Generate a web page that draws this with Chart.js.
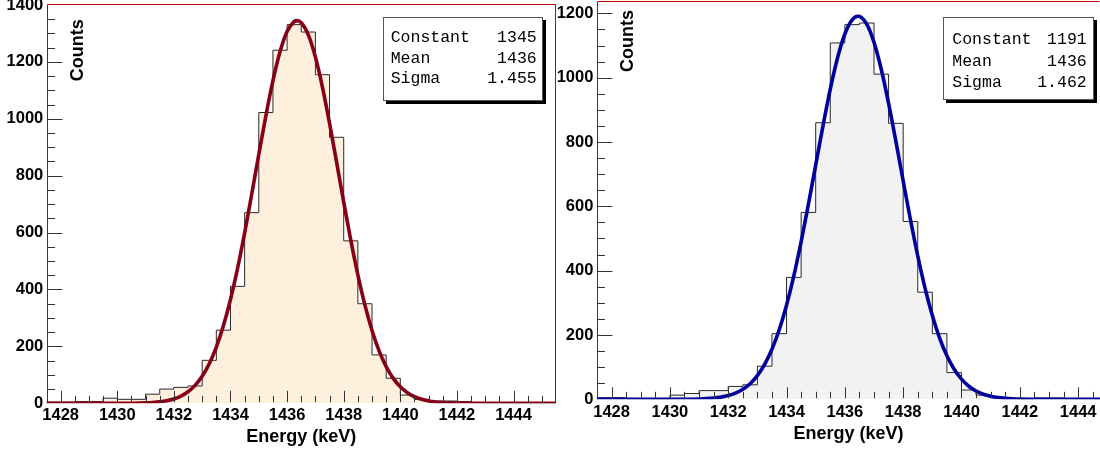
<!DOCTYPE html>
<html><head><meta charset="utf-8">
<script src="https://cdn.jsdelivr.net/npm/chart.js@4.4.1/dist/chart.umd.min.js"></script>
<style>
html,body{margin:0;padding:0;background:#fff;overflow:hidden;width:1100px;height:452px;}
#wrap{position:relative;width:1100px;height:452px;overflow:hidden;background:#fff;}
canvas{position:absolute;display:block;}
</style></head><body>
<div id="wrap">
<canvas id="c1" width="560" height="462" style="left:0px;top:-10px;width:560px;height:462px"></canvas>
<canvas id="c2" width="544" height="464" style="left:556px;top:-15px;width:544px;height:464px"></canvas>
</div>
<script>
// ---- data ----
const binLow = [1427.5,1428,1428.5,1429,1429.5,1430,1430.5,1431,1431.5,1432,1432.5,1433,1433.5,1434,1434.5,1435,1435.5,1436,1436.5,1437,1437.5,1438,1438.5,1439,1439.5,1440,1440.5,1441,1441.5,1442,1442.5,1443,1443.5,1444,1444.5,1445];
const binTop = 1445.5;
const leftCounts  = [4,4,6,6,18,14,14,32,50,56,61,151,257,411,670,1022,1241,1331,1305,1155,935,571,350,170,88,29,14,8,8,6,2,1,0,0,0,0];
const rightCounts = [5,5,2,1,1,13,18,27,27,40,45,103,204,379,581,860,1108,1165,1170,1011,858,553,333,204,83,29,13,6,2,1,4,4,2,2,1,0];

const leftFitX = [1427.5,1429,1430,1430.5,1431,1431.25,1431.5,1431.75,1432,1432.25,1432.5,1432.75,1433,1433.25,1433.5,1433.75,1434,1434.25,1434.5,1434.75,1435,1435.25,1435.5,1435.75,1436,1436.25,1436.35,1436.5,1436.75,1437,1437.25,1437.5,1437.75,1438,1438.25,1438.5,1438.75,1439,1439.25,1439.5,1439.75,1440,1440.25,1440.5,1440.75,1441,1441.25,1441.5,1441.75,1442,1442.5,1443,1445.5];
const leftFitY = [0,0,0.1,0.4,1.6,2.9,5.2,9.1,15.4,25.4,40.6,63.0,94.9,138.9,197.6,272.4,365.0,474.6,599.3,734.8,874.5,1010.6,1134.0,1235.4,1306.7,1341.8,1345,1337.9,1295.1,1217.2,1110.8,984.1,846.7,707.1,573.4,451.4,345.1,256.1,184.5,129.1,87.7,57.8,37.0,23.0,13.9,8.2,4.6,2.6,1.4,0.7,0.2,0,0];
const rightFitX = [1427.5,1429,1430,1430.5,1431,1431.25,1431.5,1431.75,1432,1432.25,1432.5,1432.75,1433,1433.25,1433.5,1433.75,1434,1434.25,1434.5,1434.75,1435,1435.25,1435.5,1435.75,1436,1436.25,1436.45,1436.5,1436.75,1437,1437.25,1437.5,1437.75,1438,1438.25,1438.5,1438.75,1439,1439.25,1439.5,1439.75,1440,1440.25,1440.5,1440.75,1441,1441.25,1441.5,1441.75,1442,1442.5,1443,1445.5];
const rightFitY = [0,0,0.1,0.3,1.1,2.1,3.9,6.8,11.6,19.2,31.0,48.4,73.6,108.5,155.5,216.4,292.5,383.9,489.4,605.9,728.3,850.4,964.3,1062.0,1135.9,1179.9,1191,1190.3,1166.2,1109.7,1025.5,920.3,802.1,679.0,558.2,445.7,345.5,260.2,190.3,135.2,93.3,62.5,40.6,25.7,15.8,9.4,5.4,3.1,1.7,0.9,0.2,0,0];

const xTickLabels = [1428,1430,1432,1434,1436,1438,1440,1442,1444];
const leftYTicks  = [0,200,400,600,800,1000,1200,1400];
const rightYTicks = [0,200,400,600,800,1000,1200];

const fitParamNames = ['Constant','Mean','Sigma'];
const leftFitParams  = ['1345','1436','1.455'];
const rightFitParams = ['1191','1436','1.462'];

const xTitle = 'Energy (keV)';
const yTitle = 'Counts';

// ---- rendering ----
Chart.defaults.font.family = '"Liberation Sans", Arial, Helvetica, sans-serif';
Chart.defaults.color = '#000';

const rootStyle = {
  id: 'rootStyle',
  beforeDatasetsDraw(chart, args, o) {
    const {ctx, chartArea: a} = chart;
    ctx.save();
    ctx.strokeStyle = o.frameColor; ctx.lineWidth = 1;
    const L = Math.round(a.left) + 0.5, T = Math.round(a.top) + 0.5;
    const R = Math.round(a.right) - 0.5, B = Math.round(a.bottom) - 0.5;
    ctx.beginPath();
    ctx.moveTo(L, B); ctx.lineTo(L, T); ctx.lineTo(R, T);
    if (o.rightEdge) ctx.lineTo(R, B);
    ctx.moveTo(L, B); ctx.lineTo(R, B);
    ctx.stroke();
    ctx.restore();
  },
  afterDatasetsDraw(chart, args, o) {
    const {ctx, chartArea: a, scales} = chart;
    const x = scales.x, y = scales.y;
    ctx.save();
    ctx.strokeStyle = '#333'; ctx.lineWidth = 1;
    ctx.beginPath();
    for (let v = x.min; v <= x.max + 1e-9; v += 0.5) {
      const p = x.getPixelForValue(v);
      if (p < a.left + 1.5 || p > a.right - 1.5) continue;
      const px = Math.round(p) + 0.5;
      const len = xTickLabels.includes(v) ? o.xMajorLen : o.xMinorLen;
      ctx.moveTo(px, a.bottom - 1); ctx.lineTo(px, a.bottom - 1 - len);
    }
    for (let v = 0; v <= y.max + 1e-9; v += 50) {
      const p = y.getPixelForValue(v);
      if (p > a.bottom - 1.5 || p < a.top + 1.5) continue;
      const py = Math.round(p) + 0.5;
      const len = (v % 200 === 0) ? o.yMajorLen : o.yMinorLen;
      ctx.moveTo(a.left + 1, py); ctx.lineTo(a.left + 1 + len, py);
    }
    ctx.stroke();
    ctx.fillStyle = '#000';
    ctx.font = 'bold 18px "Liberation Sans", Arial, sans-serif';
    ctx.translate(o.countsAt[0] - o.offX, o.countsAt[1] - o.offY);
    ctx.rotate(-Math.PI / 2);
    ctx.textAlign = 'right'; ctx.textBaseline = 'alphabetic';
    ctx.fillText(yTitle, 0, 0);
    ctx.restore();
    ctx.save();
    const b = o.box;
    const bx = b.x - o.offX, by = b.y - o.offY;
    ctx.fillStyle = '#000';
    ctx.fillRect(bx + 3, by + 3, b.w, b.h);
    ctx.fillStyle = '#fff';
    ctx.fillRect(bx, by, b.w, b.h);
    ctx.strokeStyle = '#555'; ctx.lineWidth = 1;
    ctx.strokeRect(Math.round(bx) + 0.5, Math.round(by) + 0.5, b.w - 1, b.h - 1);
    ctx.fillStyle = '#000';
    ctx.font = '16.5px "Liberation Mono", "Courier New", monospace';
    ctx.textBaseline = 'middle';
    fitParamNames.forEach((n, i) => {
      const ty = o.rowsY[i] - o.offY;
      ctx.textAlign = 'left';
      ctx.fillText(n, o.textLeft - o.offX, ty);
      ctx.textAlign = 'right';
      ctx.fillText(o.values[i], o.textRight - o.offX, ty);
    });
    ctx.restore();
  }
};

function makeChart(id, cfg) {
  const hist = binLow.map((e, i) => ({x: e, y: cfg.counts[i]}));
  hist.push({x: binTop, y: cfg.counts[cfg.counts.length - 1]});
  const fit = cfg.fitX.map((e, i) => ({x: e, y: cfg.fitY[i]}));
  return new Chart(document.getElementById(id), {
    type: 'line',
    data: {
      datasets: [
        {data: fit, borderColor: cfg.fitColor, borderWidth: 3.6, pointRadius: 0,
         cubicInterpolationMode: 'monotone', fill: false, order: 0},
        {data: hist, stepped: 'before', borderColor: '#2a2a2a', borderWidth: 1,
         backgroundColor: cfg.fill, fill: 'origin', pointRadius: 0, order: 1}
      ]
    },
    options: {
      responsive: false, animation: false, events: [],
      layout: {padding: cfg.padding},
      plugins: {
        legend: {display: false}, tooltip: {enabled: false},
        rootStyle: cfg.style
      },
      scales: {
        x: {
          type: 'linear', min: 1427.5, max: cfg.xMax,
          grid: {display: false, drawTicks: false}, border: {display: false},
          afterBuildTicks: s => { s.ticks = xTickLabels.map(v => ({value: v})); },
          afterFit: s => { s.height = cfg.xHeight; },
          ticks: {font: {size: 16.5, weight: 'bold'}, padding: cfg.xLabelPad, maxRotation: 0,
                  autoSkip: false, callback: v => String(v)},
          title: {display: true, text: xTitle, font: {size: 18, weight: 'bold'},
                  padding: {top: 0, bottom: 4.2}}
        },
        y: {
          type: 'linear', min: 0, max: cfg.yMax,
          grid: {display: false, drawTicks: false}, border: {display: false},
          afterBuildTicks: s => { s.ticks = cfg.yTicks.map(v => ({value: v})); },
          afterFit: s => { s.width = cfg.yWidth; },
          ticks: {font: {size: 16.5, weight: 'bold'}, padding: cfg.yLabelPad,
                  autoSkip: false, callback: v => String(v)}
        }
      }
    },
    plugins: [rootStyle]
  });
}

makeChart('c1', {
  counts: leftCounts, fitX: leftFitX, fitY: leftFitY,
  fitColor: '#860018', fill: '#FEF0DD',
  xMax: 1445.5, yMax: 1403.5, yTicks: leftYTicks,
  padding: {left: 0, top: 14, right: 4, bottom: 0},
  xHeight: 48.7, yWidth: 46.5, xLabelPad: 1.8, yLabelPad: 3.2,
  style: {frameColor: '#c00000', rightEdge: true, offX: 0, offY: -10,
          xMajorLen: 11.5, xMinorLen: 6.5, yMajorLen: 15, yMinorLen: 7.5,
          countsAt: [83, 19.3],
          box: {x: 383, y: 17, w: 160, h: 84}, rowsY: [37.3, 58.3, 79],
          textLeft: 390.7, textRight: 536.7, values: leftFitParams}
});

makeChart('c2', {
  counts: rightCounts, fitX: rightFitX, fitY: rightFitY,
  fitColor: '#00009c', fill: '#F2F2F2',
  xMax: 1444.75, yMax: 1240, yTicks: rightYTicks,
  padding: {left: 0, top: 15.5, right: 0, bottom: 0},
  xHeight: 49.7, yWidth: 41, xLabelPad: 2.8, yLabelPad: 3.6,
  style: {frameColor: '#c00000', rightEdge: false, offX: 556, offY: -15,
          xMajorLen: 11, xMinorLen: 6.5, yMajorLen: 14.5, yMinorLen: 7,
          countsAt: [633, 10],
          box: {x: 943, y: 17, w: 151, h: 83}, rowsY: [39.3, 61.7, 82.7],
          textLeft: 952.3, textRight: 1086.7, values: rightFitParams}
});
</script>
</body></html>
